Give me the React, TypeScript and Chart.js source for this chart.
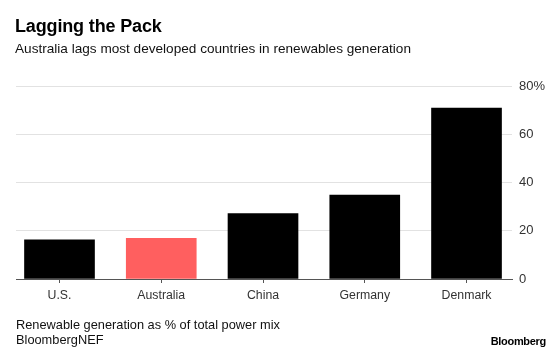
import React, { useEffect, useRef } from "react";
import { Chart, registerables } from "chart.js";

Chart.register(...registerables);

const categories = ["U.S.", "Australia", "China", "Germany", "Denmark"];
const values = [16.2, 16.9, 27.1, 34.8, 70.8];
const barColors = ["#000000", "#ff5f5f", "#000000", "#000000", "#000000"];
const yTicks = [0, 20, 40, 60, 80];

const FONT = "'Liberation Sans', Arial, Helvetica, sans-serif";

export default function App() {
  const ref = useRef<HTMLCanvasElement>(null);

  useEffect(() => {
    document.body.style.margin = "0";
    const chart = new Chart(ref.current as HTMLCanvasElement, {
      type: "bar",
      data: {
        datasets: [
          {
            data: values.map((v, i) => ({ x: i, y: v })),
            backgroundColor: barColors,
            barThickness: 70,
          } as any,
        ],
      },
      options: {
        responsive: false,
        animation: false,
        layout: { padding: { left: 16, top: 86, right: 0, bottom: 0 } },
        plugins: {
          legend: { display: false },
          tooltip: { enabled: false },
          title: { display: false },
        },
        scales: {
          x: {
            type: "linear",
            offset: false,
            min: -0.4275,
            max: 4.447,
            afterBuildTicks: (s: any) => {
              s.ticks = categories.map((_, i) => ({ value: i }));
            },
            afterFit: (s: any) => {
              s.height = 75;
            },
            grid: {
              offset: false,
              drawOnChartArea: false,
              drawTicks: true,
              tickLength: 4,
              color: "#555555",
            },
            border: { color: "#555555", width: 1 },
            ticks: {
              callback: (v: any) => categories[v as number],
              font: { family: FONT, size: 12.3 },
              color: "#333333",
              padding: 5,
              maxRotation: 0,
              autoSkip: false,
            },
          },
          y: {
            position: "right",
            min: 0,
            max: 80,
            afterBuildTicks: (s: any) => {
              s.ticks = yTicks.map((v) => ({ value: v }));
            },
            afterFit: (s: any) => {
              s.width = 48;
            },
            grid: { color: "#e2e2e2", drawTicks: false, lineWidth: 1 },
            border: { display: false },
            ticks: {
              padding: 7,
              callback: (v: any) => (v === 80 ? "80%" : String(v)),
              font: { family: FONT, size: 13 },
              color: "#333333",
            },
          },
        },
      } as any,
    });
    return () => chart.destroy();
  }, []);

  return (
    <div
      style={{
        position: "fixed",
        left: 0,
        top: 0,
        width: 560,
        height: 354,
        background: "#ffffff",
        fontFamily: FONT,
        overflow: "hidden",
      }}
    >
      <canvas
        ref={ref}
        width={560}
        height={354}
        style={{ position: "absolute", left: 0, top: 0, display: "block" }}
      />
      <div
        style={{
          position: "absolute",
          left: 15,
          top: 17,
          fontSize: 18,
          lineHeight: "18px",
          fontWeight: 700,
          color: "#000",
          letterSpacing: -0.15,
          whiteSpace: "nowrap",
        }}
      >
        Lagging the Pack
      </div>
      <div
        style={{
          position: "absolute",
          left: 15,
          top: 41.5,
          fontSize: 13.6,
          lineHeight: "13.6px",
          color: "#111",
          whiteSpace: "nowrap",
        }}
      >
        Australia lags most developed countries in renewables generation
      </div>
      <div
        style={{
          position: "absolute",
          left: 16,
          top: 318,
          fontSize: 12.8,
          lineHeight: "14.5px",
          color: "#111",
          whiteSpace: "nowrap",
        }}
      >
        <div>Renewable generation as % of total power mix</div>
        <div>BloombergNEF</div>
      </div>
      <div
        style={{
          position: "absolute",
          right: 14,
          top: 336,
          fontSize: 11,
          lineHeight: "11px",
          fontWeight: 700,
          color: "#000",
          letterSpacing: -0.3,
          whiteSpace: "nowrap",
        }}
      >
        Bloomberg
      </div>
    </div>
  );
}
